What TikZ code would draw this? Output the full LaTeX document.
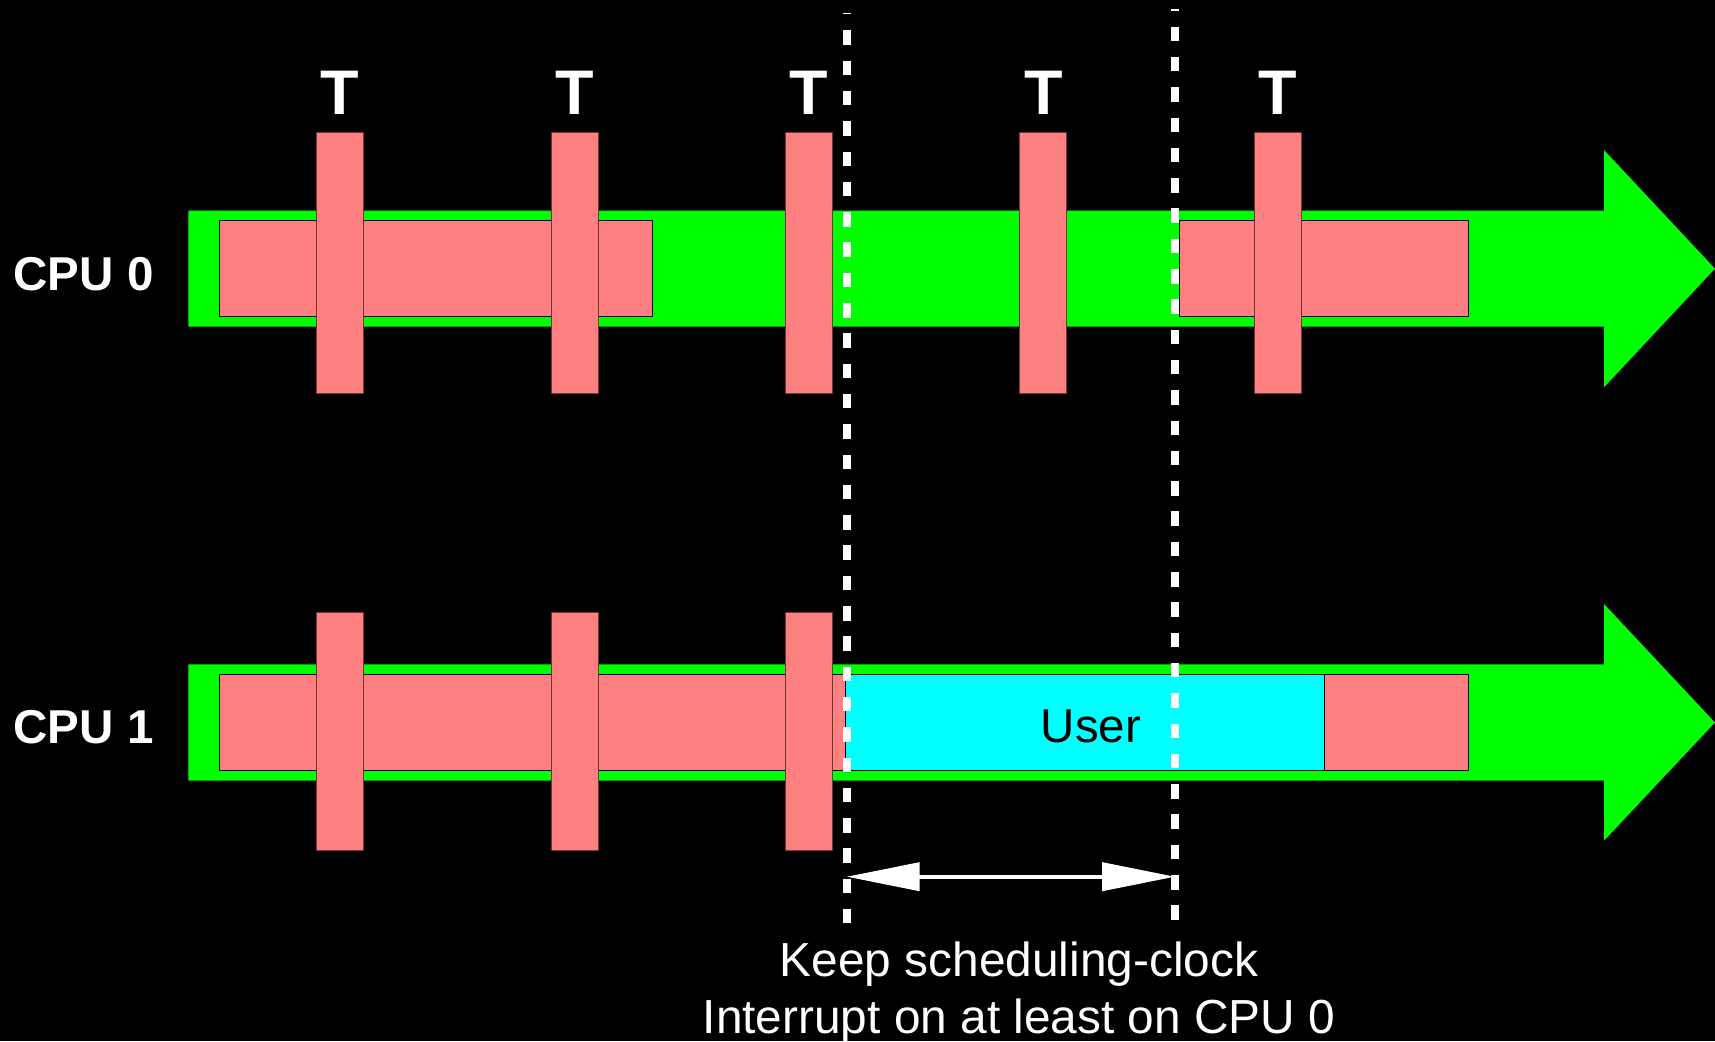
\documentclass[tikz,border=0pt]{standalone}
\usepackage{fontspec}
\setmainfont{Liberation Sans}
\usetikzlibrary{arrows.meta}
\definecolor{bargreen}{HTML}{00FF00}
\definecolor{salmon}{HTML}{FF8080}
\definecolor{usercyan}{HTML}{00FFFF}
\definecolor{tickedge}{rgb}{0.45,0.2,0.2}
\tikzset{
  greenbar/.style={fill=bargreen, draw=none},
  longbox/.style={rectangle, fill=salmon, draw=black, line width=1pt, inner sep=0pt},
  userbox/.style={rectangle, fill=usercyan, draw=black, line width=1pt, inner sep=0pt},
  tickbox/.style={rectangle, fill=salmon, draw=tickedge, line width=0.8pt, inner sep=0pt, minimum width=47pt},
  tlabel/.style={anchor=base, text=white, inner sep=0pt, font=\fontsize{63}{63}\selectfont\bfseries},
  cpulabel/.style={anchor=base west, text=white, inner sep=0pt, font=\fontsize{47.5}{47.5}\selectfont\bfseries},
  dashline/.style={draw=white, line width=7.8pt, dash pattern=on 14.5pt off 15.8pt, dash phase=13pt},
  dimarrow/.style={draw=white, line width=4pt, {Triangle[length=73pt,width=28pt]}-{Triangle[length=73pt,width=28pt]}},
  caption/.style={align=center, text=white, inner sep=0pt, font=\fontsize{47.8}{56.6}\selectfont}
}
\begin{document}
\begin{tikzpicture}[x=1pt,y=-1pt]
\fill[black] (0,0) rectangle (1715,1041);
\useasboundingbox (0,0) rectangle (1715,1041);
% green arrows
\path[greenbar] (188.3,210.7) -- (1604,210.7) -- (1604,150) -- (1715,268.7) -- (1604,387.3) -- (1604,326.7) -- (188.3,326.7) -- cycle;
\path[greenbar] (188.3,664.3) -- (1604,664.3) -- (1604,604) -- (1715,722.5) -- (1604,840.7) -- (1604,780.7) -- (188.3,780.7) -- cycle;
% long boxes CPU0
\node[longbox, minimum width=432.1pt, minimum height=96pt] (k0a) at (436,268.7) {};
\node[longbox, minimum width=288.2pt, minimum height=96pt] (k0b) at (1324,268.7) {};
% long boxes CPU1
\node[longbox, minimum width=1248.2pt, minimum height=96pt] (k1) at (844,722.3) {};
\node[userbox, minimum width=478.5pt, minimum height=96pt] (user) at (1084.75,722.3) {};
\node[anchor=base, inner sep=0pt, font=\fontsize{47.5}{47.5}\selectfont] (usertext) at (1091,742.3) {User};
% ticks CPU0
\foreach \i/\x in {1/340.2,2/574.5,3/808.9,4/1043.3,5/1277.7}{
  \node[tickbox, minimum height=261.3pt] (t0\i) at (\x,262.7) {};
  \node[tlabel] (T\i) at (\x,114) {T};
}
% ticks CPU1
\foreach \i/\x in {1/340.2,2/574.5,3/808.9}{
  \node[tickbox, minimum height=238.7pt] (t1\i) at (\x,731.35) {};
}
% labels
\node[cpulabel] (cpu0) at (13.5,290) {CPU 0};
\node[cpulabel] (cpu1) at (13.5,743.3) {CPU 1};
% dashed lines
\coordinate (d1top) at (846.7,13);
\coordinate (d1bot) at (846.7,923.3);
\coordinate (d2top) at (1175,9.3);
\coordinate (d2bot) at (1175,920.7);
\draw[dashline] (d1top) -- (d1bot);
\draw[dashline] (d2top) -- (d2bot);
% dimension arrow
\coordinate (a1) at (846.7,876.7);
\coordinate (a2) at (1175,876.7);
\draw[dimarrow] (a1) -- (a2);
% caption
\node[caption, anchor=base] (cap1) at (1019,976.7) {Keep scheduling-clock};
\node[caption, anchor=base] (cap2) at (1019,1033.3) {Interrupt on at least on CPU 0};
\end{tikzpicture}
\end{document}
